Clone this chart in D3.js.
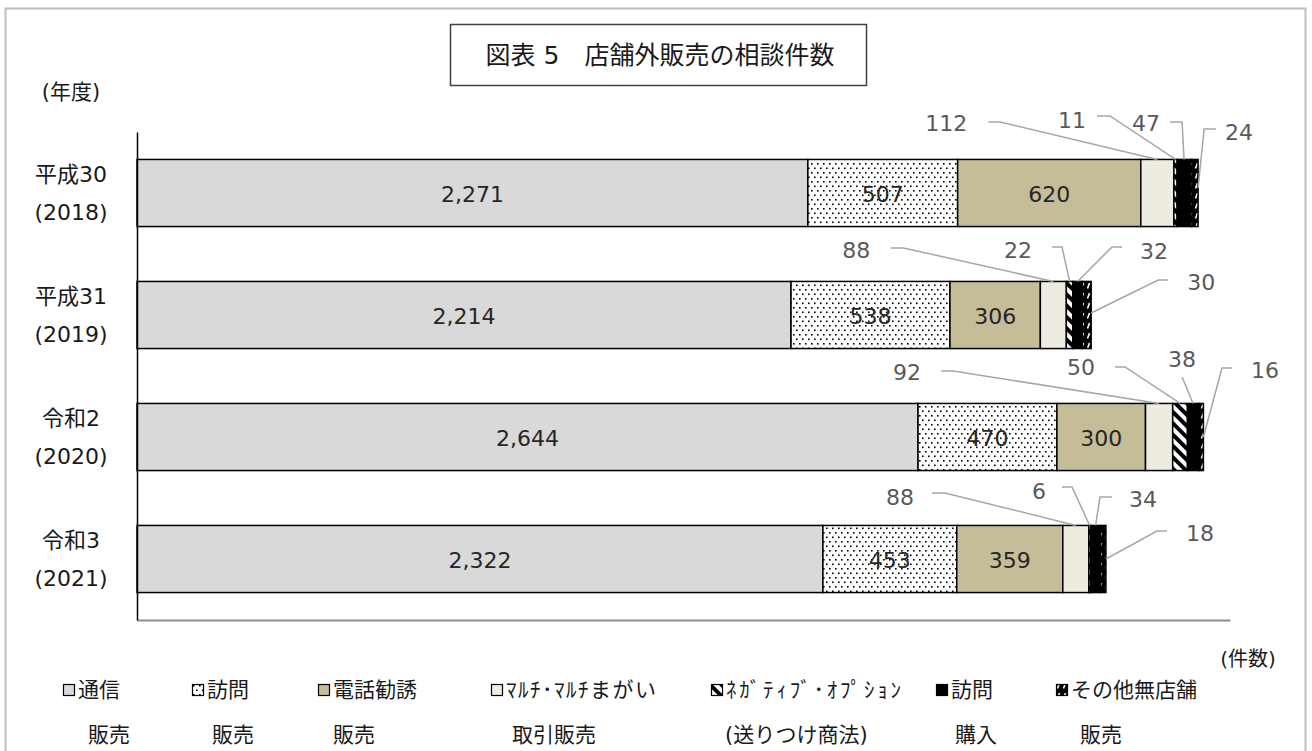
<!DOCTYPE html>
<html><head><meta charset="utf-8">
<script src="https://cdn.jsdelivr.net/npm/d3@7"></script>
<style>
body{margin:0;background:#fff}
svg{display:block}
text{font-family:"DejaVu Sans","Noto Sans CJK JP",sans-serif}
</style>
</head><body>
<svg id="c" width="1312" height="751"></svg>
<script>
// ---- data ----
const yearNames = ["平成30","平成31","令和2","令和3"];
const yearNums = ["(2018)","(2019)","(2020)","(2021)"];
const legendLine1 = ["通信","訪問","電話勧誘","ﾏﾙﾁ･ﾏﾙﾁまがい","ﾈｶﾞﾃｨﾌﾞ･ｵﾌﾟｼｮﾝ","訪問","その他無店舗"];
const legendLine2 = ["販売","販売","販売","取引販売","(送りつけ商法)","購入","販売"];
const tsushin  = [2271,2214,2644,2322];
const houmon   = [507,538,470,453];
const denwa    = [620,306,300,359];
const multi    = [112,88,92,88];
const negative = [11,22,50,6];
const kounyu   = [47,32,38,34];
const sonota   = [24,30,16,18];
const xMax = 3700;
const titleText = "図表 5　店舗外販売の相談件数";

// ---- styles / layout ----
const fills = ["#d9d9d9","url(#dots)","#c4bd97","#eeece1","url(#diag)","#000000","url(#other)"];
const insideSeries = [0,1,2];
// callout layout: offsets relative to anchor point of the segment
const callouts = [
  {yi:0,si:3,a:"top",  lab:[-211,-36.5], pts:[[-169,-37.5],[-157,-37.5]]},
  {yi:0,si:4,a:"top",  lab:[-103.5,-39.5], pts:[[-78.5,-43.5],[-65.5,-43.5]]},
  {yi:0,si:5,a:"top",  lab:[-38,-36.5], pts:[[-14,-37.5],[-2,-37.5]]},
  {yi:0,si:6,a:"right",lab:[41,-61], pts:[[18,-64],[6,-64]], end:[0,-5]},
  {yi:1,si:3,a:"top",  lab:[-197,-31.5], pts:[[-163,-33.5],[-150,-33.5]]},
  {yi:1,si:4,a:"top",  lab:[-51.6,-31.5], pts:[[-17.6,-34.5],[-7.6,-34.5]]},
  {yi:1,si:5,a:"top",  lab:[76.5,-30.5], pts:[[44.5,-34.5],[34.5,-34.5]]},
  {yi:1,si:6,a:"right",lab:[110,-33], pts:[[77,-35],[67,-35]], end:[0,-2]},
  {yi:2,si:3,a:"top",  lab:[-252,-31.5], pts:[[-218,-32.5],[-206,-32.5]]},
  {yi:2,si:4,a:"top",  lab:[-99,-36.5], pts:[[-65,-36.5],[-55,-36.5]]},
  {yi:2,si:5,a:"top",  lab:[-11,-44.5], pts:[[-11,-26.5]]},
  {yi:2,si:6,a:"right",lab:[61.6,-67], pts:[[28.6,-69],[18.6,-69]]},
  {yi:3,si:3,a:"top",  lab:[-175.8,-28.5], pts:[[-143.8,-32.5],[-130.8,-32.5]]},
  {yi:3,si:4,a:"top",  lab:[-50.7,-34.5], pts:[[-27.7,-38.5],[-17.7,-38.5]]},
  {yi:3,si:5,a:"top",  lab:[47.4,-26.5], pts:[[16.4,-28.5],[4.4,-28.5]]},
  {yi:3,si:6,a:"right",lab:[94,-26], pts:[[61,-28],[51,-28]]}
];
const legendIconX = [63,192,318,491,711,936,1056];
const legendRow2X = [88,212,333,512,725,955,1080];
const legendSpacing = [0,0,0,1.5,2.8,0,0];

const svg = d3.select("#c");
const defs = svg.append("defs");
// dotted pattern
const pDots = defs.append("pattern").attr("id","dots").attr("patternUnits","userSpaceOnUse")
  .attr("width",6).attr("height",9);
pDots.append("rect").attr("width",6).attr("height",9).attr("fill","#fff");
pDots.append("rect").attr("x",1).attr("y",1).attr("width",1.6).attr("height",1.6).attr("fill","#000");
pDots.append("rect").attr("x",4).attr("y",5.5).attr("width",1.6).attr("height",1.6).attr("fill","#000");
// diagonal stripes
const pDiag = defs.append("pattern").attr("id","diag").attr("patternUnits","userSpaceOnUse")
  .attr("width",8).attr("height",8).attr("patternTransform","rotate(-45)");
pDiag.append("rect").attr("width",8).attr("height",8).attr("fill","#fff");
pDiag.append("rect").attr("width",4).attr("height",8).attr("fill","#000");
// other pattern
const pOther = defs.append("pattern").attr("id","other").attr("patternUnits","userSpaceOnUse")
  .attr("width",6).attr("height",10);
pOther.append("rect").attr("width",6).attr("height",10).attr("fill","#000");
pOther.append("path").attr("d","M1.5,8.5 L3.5,3").attr("stroke","#fff").attr("stroke-width",1.6);

// outer border
svg.append("rect").attr("x",5.5).attr("y",8.5).attr("width",1300).attr("height",770)
  .attr("fill","none").attr("stroke","#bfbfbf").attr("stroke-width",2);

// title
svg.append("rect").attr("x",450.5).attr("y",24.5).attr("width",416).attr("height",61)
  .attr("fill","#fff").attr("stroke","#404040").attr("stroke-width",1.5);
svg.append("text").attr("x",660).attr("y",55).attr("dy","0.35em").attr("text-anchor","middle")
  .attr("font-size",25).attr("fill","#1a1a1a").text(titleText);

svg.append("text").attr("x",71).attr("y",92).attr("dy","0.35em").attr("text-anchor","middle")
  .attr("font-size",21).attr("fill","#1a1a1a").text("(年度)");

// scales
const x = d3.scaleLinear().domain([0,xMax]).range([137,1230]);
const y = d3.scaleBand().domain(d3.range(yearNames.length)).range([132,620])
  .paddingInner(0.45).paddingOuter(0.225);

const series = [tsushin,houmon,denwa,multi,negative,kounyu,sonota];
const rows = yearNames.map((_,i)=>{const r={}; series.forEach((s,j)=>r[j]=s[i]); return r;});
const stack = d3.stack().keys(d3.range(series.length))(rows);

// bottom axis line
svg.append("g").attr("transform","translate(0,620)")
  .call(d3.axisBottom(x).ticks(0).tickSizeOuter(0).tickFormat(""))
  .call(g=>g.select(".domain").attr("stroke","#8c8c8c").attr("stroke-width",2));

// bars
const segG = svg.append("g");
stack.forEach((layer,si)=>{
  segG.selectAll(null).data(layer).join("rect")
    .attr("x",d=>x(d[0])).attr("y",(d,i)=>y(i))
    .attr("width",d=>x(d[1])-x(d[0])).attr("height",y.bandwidth())
    .attr("fill",fills[si]).attr("stroke","#000").attr("stroke-width",1.5);
});

// left axis
svg.append("g").attr("transform","translate(137,0)")
  .call(d3.axisLeft(y).tickSize(0).tickSizeOuter(0).tickFormat(""))
  .call(g=>g.select(".domain").attr("stroke","#000").attr("stroke-width",1.5));

// category labels
const cat = svg.append("g");
yearNames.forEach((n,i)=>{
  const cy = y(i)+y.bandwidth()/2;
  cat.append("text").attr("x",71).attr("y",cy-19).attr("dy","0.35em").attr("text-anchor","middle")
    .attr("font-size",22).attr("fill","#1a1a1a").text(n);
  cat.append("text").attr("x",71).attr("y",cy+19).attr("dy","0.35em").attr("text-anchor","middle")
    .attr("font-size",22).attr("fill","#1a1a1a").text(yearNums[i]);
});

const fmt = d3.format(",");
// inside labels
insideSeries.forEach(si=>{
  svg.append("g").selectAll("text").data(stack[si]).join("text")
    .attr("x",d=>(x(d[0])+x(d[1]))/2).attr("y",(d,i)=>y(i)+y.bandwidth()/2+1)
    .attr("dy","0.35em").attr("text-anchor","middle").attr("font-size",22)
    .attr("fill","#262626").text(d=>fmt(d[1]-d[0]));
});

// callouts
const cg = svg.append("g");
callouts.forEach(c=>{
  const d = stack[c.si][c.yi];
  let ax, ay;
  if(c.a==="top"){ ax=(x(d[0])+x(d[1]))/2; ay=y(c.yi); }
  else { ax=x(d[1]); ay=y(c.yi)+y.bandwidth()/2; }
  const e = c.end||[0,0];
  const pts = c.pts.map(p=>[ax+p[0],ay+p[1]]).concat([[ax+e[0],ay+e[1]]]);
  cg.append("path").attr("d",d3.line()(pts)).attr("fill","none")
    .attr("stroke","#a6a6a6").attr("stroke-width",1.5);
  cg.append("text").attr("x",ax+c.lab[0]).attr("y",ay+c.lab[1]).attr("dy","0.35em")
    .attr("text-anchor","middle").attr("font-size",22).attr("fill","#595959")
    .text(fmt(d[1]-d[0]));
});

// unit
svg.append("text").attr("x",1248).attr("y",659).attr("dy","0.35em").attr("text-anchor","middle")
  .attr("font-size",20).attr("fill","#1a1a1a").text("(件数)");

// legend
const lg = svg.append("g");
legendLine1.forEach((t,i)=>{
  lg.append("rect").attr("x",legendIconX[i]+0.5).attr("y",684.5).attr("width",11).attr("height",11)
    .attr("fill",fills[i]).attr("stroke","#000").attr("stroke-width",1.2);
  lg.append("text").attr("x",legendIconX[i]+15).attr("y",690).attr("dy","0.35em")
    .attr("font-size",21).attr("letter-spacing",legendSpacing[i]).attr("fill","#1a1a1a").text(t);
  lg.append("text").attr("x",legendRow2X[i]).attr("y",735).attr("dy","0.35em")
    .attr("font-size",21).attr("fill","#1a1a1a").text(legendLine2[i]);
});
</script>
</body></html>
